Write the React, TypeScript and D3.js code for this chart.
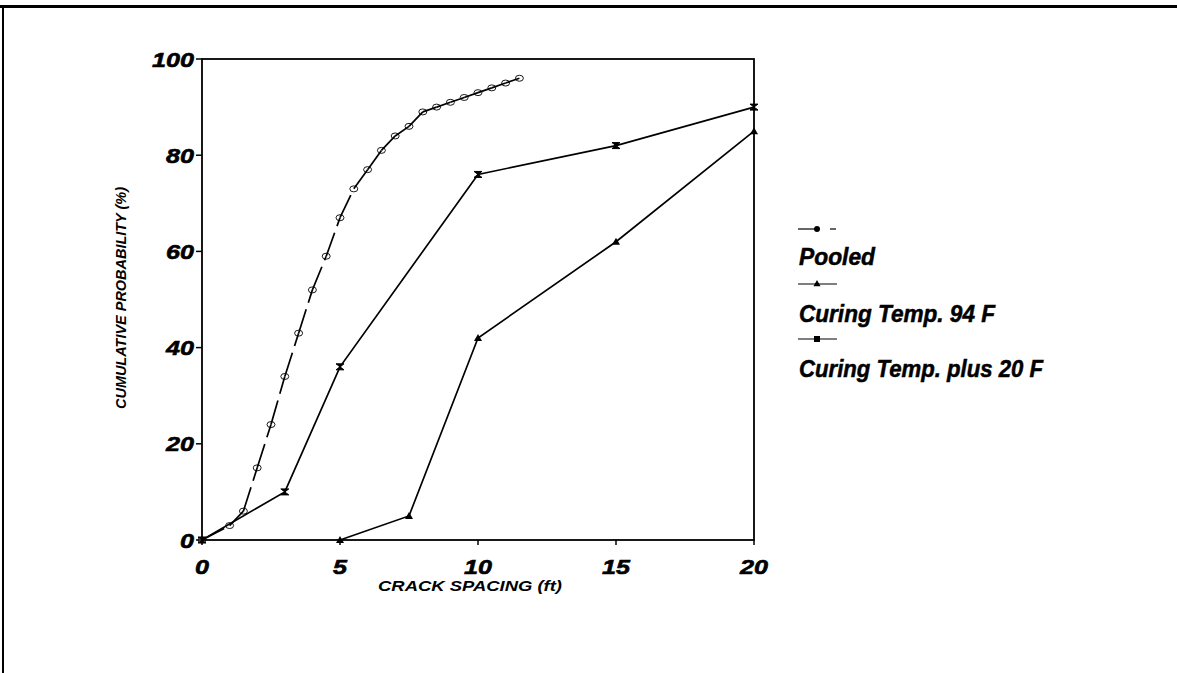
import React from "react";
import * as d3 from "d3";

const pooledX = [0, 1, 1.5, 2, 2.5, 3, 3.5, 4, 4.5, 5, 5.5, 6, 6.5, 7, 7.5, 8, 8.5, 9, 9.5, 10, 10.5, 11, 11.5];
const pooledY = [0, 3, 6, 15, 24, 34, 43, 52, 59, 67, 73, 77, 81, 84, 86, 89, 90, 91, 92, 93, 94, 95, 96];
const temp94X = [5, 7.5, 10, 15, 20];
const temp94Y = [0, 5, 42, 62, 85];
const plus20X = [0, 3, 5, 10, 15, 20];
const plus20Y = [0, 10, 36, 76, 82, 90];
const xTicks = [0, 5, 10, 15, 20];
const yTicks = [0, 20, 40, 60, 80, 100];
const legendLabels = ["Pooled", "Curing Temp. 94 F", "Curing Temp. plus 20 F"];
const xTitle = "CRACK SPACING (ft)";
const yTitle = "CUMULATIVE PROBABILITY (%)";

const FONT = "'Liberation Sans', Arial, sans-serif";

export default function App() {
  const W = 1177, H = 673;
  const x = d3.scaleLinear().domain([0, 20]).range([202, 754]);
  const y = d3.scaleLinear().domain([0, 100]).range([540, 59]);
  const line = d3.line<[number, number]>().x(d => x(d[0])).y(d => y(d[1]));

  const pooled: [number, number][] = pooledX.map((v, i) => [v, pooledY[i]]);
  const t94: [number, number][] = temp94X.map((v, i) => [v, temp94Y[i]]);
  const p20: [number, number][] = plus20X.map((v, i) => [v, plus20Y[i]]);

  const segs = pooled.slice(1).map((d, i) => [pooled[i], d] as [number, number][]);

  const tri = (cx: number, cy: number, s = 4) =>
    `M${cx},${cy - s} L${cx + s},${cy + s * 0.75} L${cx - s},${cy + s * 0.75} Z`;
  const hour = (cx: number, cy: number) =>
    `M${cx - 4},${cy - 3} L${cx + 4},${cy - 3} L${cx - 4},${cy + 3} L${cx + 4},${cy + 3} Z`;

  const legendY = [229, 284, 339];
  const legendTextY = [265, 322, 377];
  const legendW = [76, 196, 244];

  return (
    <svg width={W} height={H} style={{ position: "absolute", left: 0, top: 0, background: "#fff" }}>
      <rect x={0} y={0} width={W} height={H} fill="#fff" />
      {/* page frame */}
      <line x1={0} x2={W} y1={6.5} y2={6.5} stroke="#000" strokeWidth={3} />
      <line x1={3} x2={3} y1={5} y2={H} stroke="#000" strokeWidth={2} />

      {/* plot box */}
      <rect x={x(0)} y={y(100)} width={x(20) - x(0)} height={y(0) - y(100)} fill="none" stroke="#000" strokeWidth={1.8} />

      {/* y ticks */}
      {yTicks.map(t => (
        <g key={"y" + t}>
          <line x1={x(0) - 6} x2={x(0)} y1={y(t)} y2={y(t)} stroke="#000" strokeWidth={1.5} />
          <text x={194} y={y(t) + 7.5} textAnchor="end" fontFamily={FONT} fontStyle="italic" fontWeight="bold" fontSize={21}
            stroke="#000" strokeWidth={0.6}
            textLength={String(t).length * 14} lengthAdjust="spacingAndGlyphs">{t}</text>
        </g>
      ))}
      {/* x ticks */}
      {xTicks.map(t => (
        <g key={"x" + t}>
          <line x1={x(t)} x2={x(t)} y1={y(0)} y2={y(0) + 5} stroke="#000" strokeWidth={1.5} />
          <text x={x(t)} y={574} textAnchor="middle" fontFamily={FONT} fontStyle="italic" fontWeight="bold" fontSize={21}
            stroke="#000" strokeWidth={0.6}
            textLength={String(t).length * 14} lengthAdjust="spacingAndGlyphs">{t}</text>
        </g>
      ))}

      {/* axis titles */}
      <text x={470} y={591} textAnchor="middle" fontFamily={FONT} fontStyle="italic" fontWeight="bold" fontSize={14}
        textLength={184} lengthAdjust="spacingAndGlyphs">{xTitle}</text>
      <text transform={`translate(126,298) rotate(-90)`} textAnchor="middle" fontFamily={FONT} fontStyle="italic" fontWeight="bold" fontSize={15}
        textLength={222} lengthAdjust="spacingAndGlyphs">{yTitle}</text>

      {/* series: plus 20 F */}
      <path d={line(p20) || ""} fill="none" stroke="#000" strokeWidth={1.7} />
      {p20.map((d, i) => <path key={"p" + i} d={hour(x(d[0]), y(d[1]))} fill="#000" stroke="#000" strokeWidth={1} />)}

      {/* series: 94 F */}
      <path d={line(t94) || ""} fill="none" stroke="#000" strokeWidth={1.7} />
      {t94.map((d, i) => <path key={"t" + i} d={tri(x(d[0]), y(d[1]))} fill="#000" />)}

      {/* series: pooled */}
      {segs.map((s, i) => (
        <path key={"s" + i} d={line(s) || ""} fill="none" stroke="#000" strokeWidth={1.7} strokeDasharray="25,7" />
      ))}
      {pooled.map((d, i) => (
        <ellipse key={"c" + i} cx={x(d[0])} cy={y(d[1])} rx={4} ry={3} fill="none" stroke="#000" strokeWidth={0.9} />
      ))}

      {/* legend */}
      <g>
        <line x1={798} x2={818} y1={legendY[0]} y2={legendY[0]} stroke="#000" strokeWidth={1.2} />
        <circle cx={817} cy={legendY[0]} r={3} fill="#000" />
        <line x1={830} x2={836} y1={legendY[0]} y2={legendY[0]} stroke="#000" strokeWidth={1.2} />

        <line x1={798} x2={837} y1={legendY[1]} y2={legendY[1]} stroke="#000" strokeWidth={1.2} />
        <path d={tri(817, legendY[1] - 0.5, 3.5)} fill="#000" />

        <line x1={798} x2={837} y1={legendY[2]} y2={legendY[2]} stroke="#000" strokeWidth={1.2} />
        <rect x={814} y={legendY[2] - 3} width={6} height={6} fill="#000" />

        {legendLabels.map((l, i) => (
          <text key={l} x={799} y={legendTextY[i]} fontFamily={FONT} fontStyle="italic" fontWeight="bold" fontSize={23}
            stroke="#000" strokeWidth={0.5}
            textLength={legendW[i]} lengthAdjust="spacingAndGlyphs">{l}</text>
        ))}
      </g>
    </svg>
  );
}
